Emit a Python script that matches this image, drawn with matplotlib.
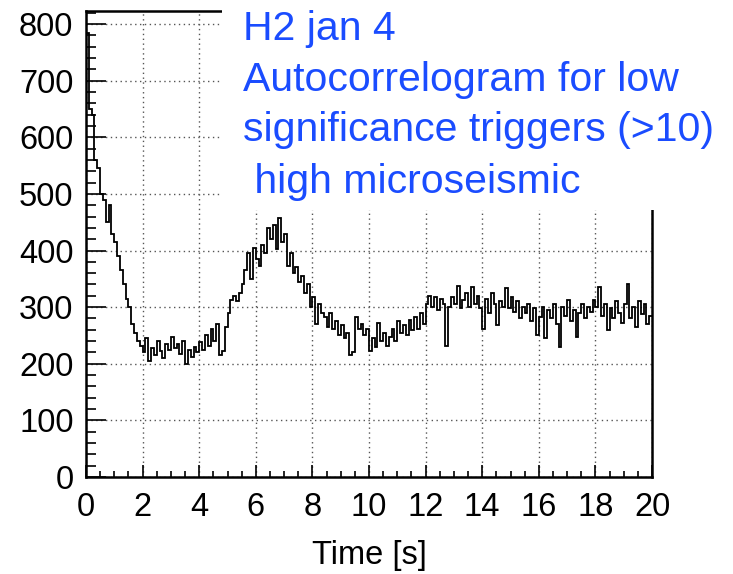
import numpy as np
import matplotlib
matplotlib.use("Agg")
import matplotlib.pyplot as plt
from matplotlib.patches import Rectangle
from matplotlib.ticker import MultipleLocator

# autocorrelogram, 200 bins of 0.1 s (0 - 20 s), counts
counts_0_2 = [785, 650, 640, 560, 545, 500, 490, 450, 480, 430,
              415, 390, 365, 340, 315, 300, 270, 255, 240, 232]
counts_2_4 = [220, 245, 205, 228, 215, 240, 222, 210, 235, 225,
              248, 228, 235, 218, 240, 200, 225, 212, 230, 220]
counts_4_6 = [238, 225, 250, 232, 262, 240, 270, 215, 222, 265,
              290, 312, 320, 310, 325, 340, 365, 395, 350, 405]
counts_6_8 = [385, 372, 410, 395, 440, 420, 445, 402, 458, 415,
              430, 372, 395, 360, 370, 345, 355, 325, 340, 300]
counts_8_10 = [318, 270, 305, 290, 282, 265, 290, 262, 275, 250,
               268, 245, 255, 215, 220, 282, 262, 270, 250, 262]
counts_10_12 = [222, 245, 230, 272, 240, 255, 232, 248, 262, 240,
                275, 255, 268, 250, 278, 260, 282, 262, 290, 270]
counts_12_14 = [305, 320, 300, 318, 295, 315, 305, 232, 300, 318,
                305, 338, 298, 312, 325, 300, 335, 305, 320, 298]
counts_14_16 = [262, 315, 290, 325, 305, 268, 310, 300, 333, 298,
                318, 292, 310, 280, 300, 290, 305, 275, 298, 250]
counts_16_18 = [282, 300, 245, 295, 280, 305, 270, 230, 300, 285,
                312, 275, 295, 248, 290, 305, 280, 300, 292, 312]
counts_18_20 = [300, 336, 285, 305, 260, 298, 280, 310, 290, 272,
                305, 340, 280, 300, 265, 310, 288, 305, 270, 285]

counts = (counts_0_2 + counts_2_4 + counts_4_6 + counts_6_8 + counts_8_10
          + counts_10_12 + counts_12_14 + counts_14_16 + counts_16_18
          + counts_18_20)
t_min, t_max = 0, 20
edges = np.linspace(t_min, t_max, len(counts) + 1)

titulo = ["H2 jan 4",
          "Autocorrelogram for low",
          "significance triggers (>10)",
          " high microseismic"]

plt.rcParams["font.family"] = ["Liberation Sans", "DejaVu Sans"]

W, H = 733, 574
fig = plt.figure(figsize=(W / 100, H / 100), dpi=100)
ax = fig.add_axes([86 / W, 1 - 477 / H, (652 - 86) / W, (477 - 11) / H])

ax.stairs(counts, edges, color="black", linewidth=1.3, baseline=None)

ax.set_xlim(t_min, t_max)
ax.set_ylim(0, 823)

# ticks estilo ROOT
ax.xaxis.set_major_locator(MultipleLocator(2))
ax.xaxis.set_minor_locator(MultipleLocator(0.5))
ax.yaxis.set_major_locator(MultipleLocator(100))
ax.yaxis.set_minor_locator(MultipleLocator(20))
ax.tick_params(axis="both", which="both", direction="in", color="black",
               labelsize=23.5, width=1.2)
ax.tick_params(axis="x", which="major", length=9, pad=11)
ax.tick_params(axis="x", which="minor", length=4.5)
ax.tick_params(axis="y", which="major", length=14.5, pad=9)
ax.tick_params(axis="y", which="minor", length=7)

ax.grid(True, which="major", color="#555555", linewidth=1.0,
        linestyle=(0, (1, 2.5)))
ax.set_axisbelow(True)

for s in ax.spines.values():
    s.set_linewidth(1.8)

ax.set_xlabel("Time [s]", fontsize=23.5, labelpad=12)

# caja blanca con el texto azul encima del grafico
fig.add_artist(Rectangle((222 / W, 1 - 210 / H), 1 - 222 / W, 210 / H,
                         transform=fig.transFigure, facecolor="white",
                         edgecolor="none", zorder=5))
baselines = [40, 91, 141, 193]
for linea, yb in zip(titulo, baselines):
    fig.text(243 / W, 1 - yb / H, linea, color="#1a4cff", fontsize=29.5,
             va="baseline", ha="left", zorder=6)

fig.savefig("out.png", dpi=100)
